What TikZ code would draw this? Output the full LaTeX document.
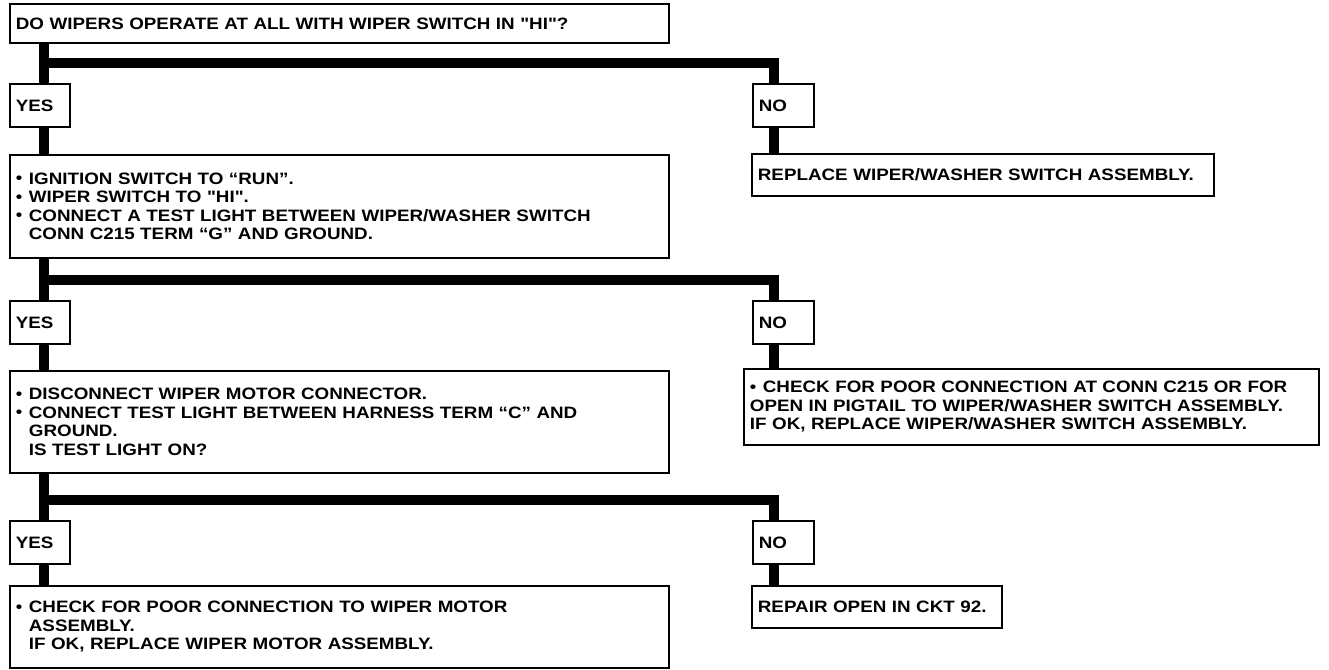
\documentclass[tikz,border=0pt]{standalone}
\usepackage{fontspec}
\setmainfont{Liberation Sans}
\newfontfamily\bx{Liberation Sans Bold}[FakeStretch=1.14]
\newcommand{\bdot}{\raisebox{0.6pt}{\fontsize{16}{16}\selectfont •}}
\newcommand{\bl}{\makebox[13pt][l]{\bdot}}
\newcommand{\ind}{\hspace*{13pt}}
\begin{document}
\begin{tikzpicture}[x=1pt,y=-1pt,
  box/.style={draw, line width=1.8pt, inner xsep=6pt, inner ysep=0pt, align=left,
    anchor=north west, font=\bx\fontsize{16.5}{18.6}\selectfont},
  conn/.style={line width=10pt, line join=miter}]
\fill[white] (0,0) rectangle (1329,669);
\useasboundingbox (0,0) rectangle (1329,669);
\coordinate (T) at (43.5,0);
\coordinate (N) at (774,0);
\coordinate (b1) at (43.5,63);
\coordinate (b2) at (43.5,280);
\coordinate (b3) at (43.5,500);
% nodes
\node[box, text width=647pt, minimum height=39pt] (top) at (9,3)
  {DO WIPERS OPERATE AT ALL WITH WIPER SWITCH IN "HI"?};
\node[box, text width=48pt, minimum height=43pt] (yes1) at (9,83) {YES};
\node[box, text width=49pt, minimum height=43pt] (no1) at (752,83) {NO};
\node[box, text width=647pt, minimum height=103pt] (box2) at (9,154)
  {\bl IGNITION SWITCH TO “RUN”.\\
   \bl WIPER SWITCH TO "HI".\\
   \bl CONNECT A TEST LIGHT BETWEEN WIPER/WASHER SWITCH\\
   \ind CONN C215 TERM “G” AND GROUND.};
\node[box, text width=450pt, minimum height=42pt] (rep) at (751,153)
  {REPLACE WIPER/WASHER SWITCH ASSEMBLY.};
\node[box, text width=48pt, minimum height=43pt] (yes2) at (9,300) {YES};
\node[box, text width=49pt, minimum height=43pt] (no2) at (752,300) {NO};
\node[box, text width=647pt, minimum height=102pt] (box3) at (9,370)
  {\bl DISCONNECT WIPER MOTOR CONNECTOR.\\
   \bl CONNECT TEST LIGHT BETWEEN HARNESS TERM “C” AND\\
   \ind GROUND.\\
   \ind IS TEST LIGHT ON?};
\node[box, text width=563pt, minimum height=76pt] (chk) at (743,368)
  {\bl CHECK FOR POOR CONNECTION AT CONN C215 OR FOR\\
   OPEN IN PIGTAIL TO WIPER/WASHER SWITCH ASSEMBLY.\\
   IF OK, REPLACE WIPER/WASHER SWITCH ASSEMBLY.};
\node[box, text width=48pt, minimum height=43pt] (yes3) at (9,520) {YES};
\node[box, text width=49pt, minimum height=43pt] (no3) at (752,520) {NO};
\node[box, text width=647pt, minimum height=82pt] (box4) at (9,585)
  {\bl CHECK FOR POOR CONNECTION TO WIPER MOTOR\\
   \ind ASSEMBLY.\\
   \ind IF OK, REPLACE WIPER MOTOR ASSEMBLY.};
\node[box, text width=238pt, minimum height=42pt] (rpr) at (751,585)
  {REPAIR OPEN IN CKT 92.};
% trunk
\draw[conn] (top.south -| T) -- (yes1.north -| T);
\draw[conn] (yes1.south -| T) -- (box2.north -| T);
\draw[conn] (box2.south -| T) -- (yes2.north -| T);
\draw[conn] (yes2.south -| T) -- (box3.north -| T);
\draw[conn] (box3.south -| T) -- (yes3.north -| T);
\draw[conn] (yes3.south -| T) -- (box4.north -| T);
% branches
\draw[conn] (b1) -| (no1.north -| N);
\draw[conn] (no1.south -| N) -- (rep.north -| N);
\draw[conn] (b2) -| (no2.north -| N);
\draw[conn] (no2.south -| N) -- (chk.north -| N);
\draw[conn] (b3) -| (no3.north -| N);
\draw[conn] (no3.south -| N) -- (rpr.north -| N);
\end{tikzpicture}
\end{document}
